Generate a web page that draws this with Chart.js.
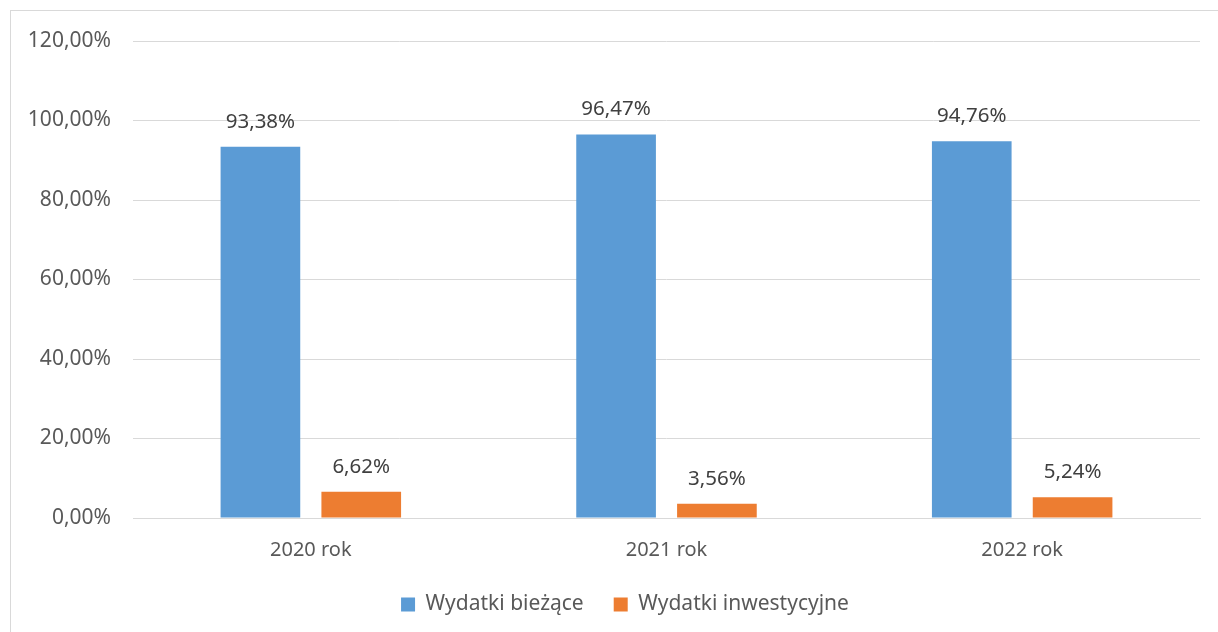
<!DOCTYPE html>
<html>
<head>
<meta charset="utf-8">
<script src="https://cdn.jsdelivr.net/npm/chart.js@4"></script>
<style>
  html, body { margin: 0; padding: 0; background: #fff; }
  #wrap { width: 1218px; height: 632px; position: relative; }
</style>
</head>
<body>
<div id="wrap"><canvas id="myChart" width="1218" height="632"></canvas></div>
<script>
const years = ["2020 rok", "2021 rok", "2022 rok"];
const biezace = [93.38, 96.47, 94.76];
const inwestycyjne = [6.62, 3.56, 5.24];
const yTicks = [0, 20, 40, 60, 80, 100, 120];

const fmt = (v, d) => v.toFixed(d).replace(".", ",") + "%";

// ramka wykresu (lewa i górna krawędź widoczne)
const frame = {
  id: "frame",
  beforeDraw(chart) {
    const c = chart.ctx;
    c.save();
    c.strokeStyle = "#d9d9d9";
    c.lineWidth = 1;
    c.strokeRect(10.5, 10.5, 1300, 700);
    c.restore();
  },
  // legenda lekko w prawo, jak w oryginale
  afterLayout(chart) {
    chart.legend.left += 16;
    chart.legend.right += 16;
  },
};

// etykiety wartości nad słupkami
const valueLabels = {
  id: "valueLabels",
  afterDatasetsDraw(chart) {
    const c = chart.ctx;
    c.save();
    c.font = "20.5px 'Noto Sans'";
    c.fillStyle = "#404040";
    c.textAlign = "center";
    c.textBaseline = "middle";
    chart.data.datasets.forEach((ds, i) => {
      chart.getDatasetMeta(i).data.forEach((bar, j) => {
        c.fillText(fmt(ds.data[j], 2), bar.x, bar.y - 25);
      });
    });
    c.restore();
  },
};

const ctx = document.getElementById("myChart").getContext("2d");
const myChart = new Chart(ctx, {
  type: "bar",
  data: {
    labels: years,
    datasets: [
      {
        label: "Wydatki bieżące",
        data: biezace,
        backgroundColor: "#5b9bd5",
        categoryPercentage: 0.567,
        barPercentage: 0.79,
      },
      {
        label: "Wydatki inwestycyjne",
        data: inwestycyjne,
        backgroundColor: "#ed7d31",
        categoryPercentage: 0.567,
        barPercentage: 0.79,
      },
    ],
  },
  options: {
    responsive: false,
    animation: false,
    layout: { padding: { left: 18, right: 18, top: 41, bottom: 7 } },
    font: { family: "'Noto Sans'" },
    scales: {
      x: {
        grid: { display: false, drawTicks: false },
        border: { color: "#d9d9d9" },
        afterFit: (s) => { s.height = 46; },
        ticks: { color: "#595959", font: { family: "'Noto Sans'", size: 20 }, padding: 20 },
      },
      y: {
        min: 0,
        max: 120,
        afterBuildTicks: (s) => { s.ticks = yTicks.map((v) => ({ value: v })); },
        afterFit: (s) => { s.width = 115; },
        grid: { color: "#d9d9d9", drawTicks: false },
        border: { display: false },
        ticks: {
          color: "#595959",
          font: { family: "'Noto Sans'", size: 21 },
          padding: 22,
          callback: (v) => fmt(v, 2),
        },
      },
    },
    plugins: {
      legend: {
        position: "bottom",
        labels: {
          color: "#595959",
          font: { family: "'Noto Sans'", size: 21 },
          boxWidth: 14,
          boxHeight: 14,
          padding: 30,
        },
      },
      tooltip: { enabled: false },
    },
  },
  plugins: [frame, valueLabels],
});
</script>
</body>
</html>
